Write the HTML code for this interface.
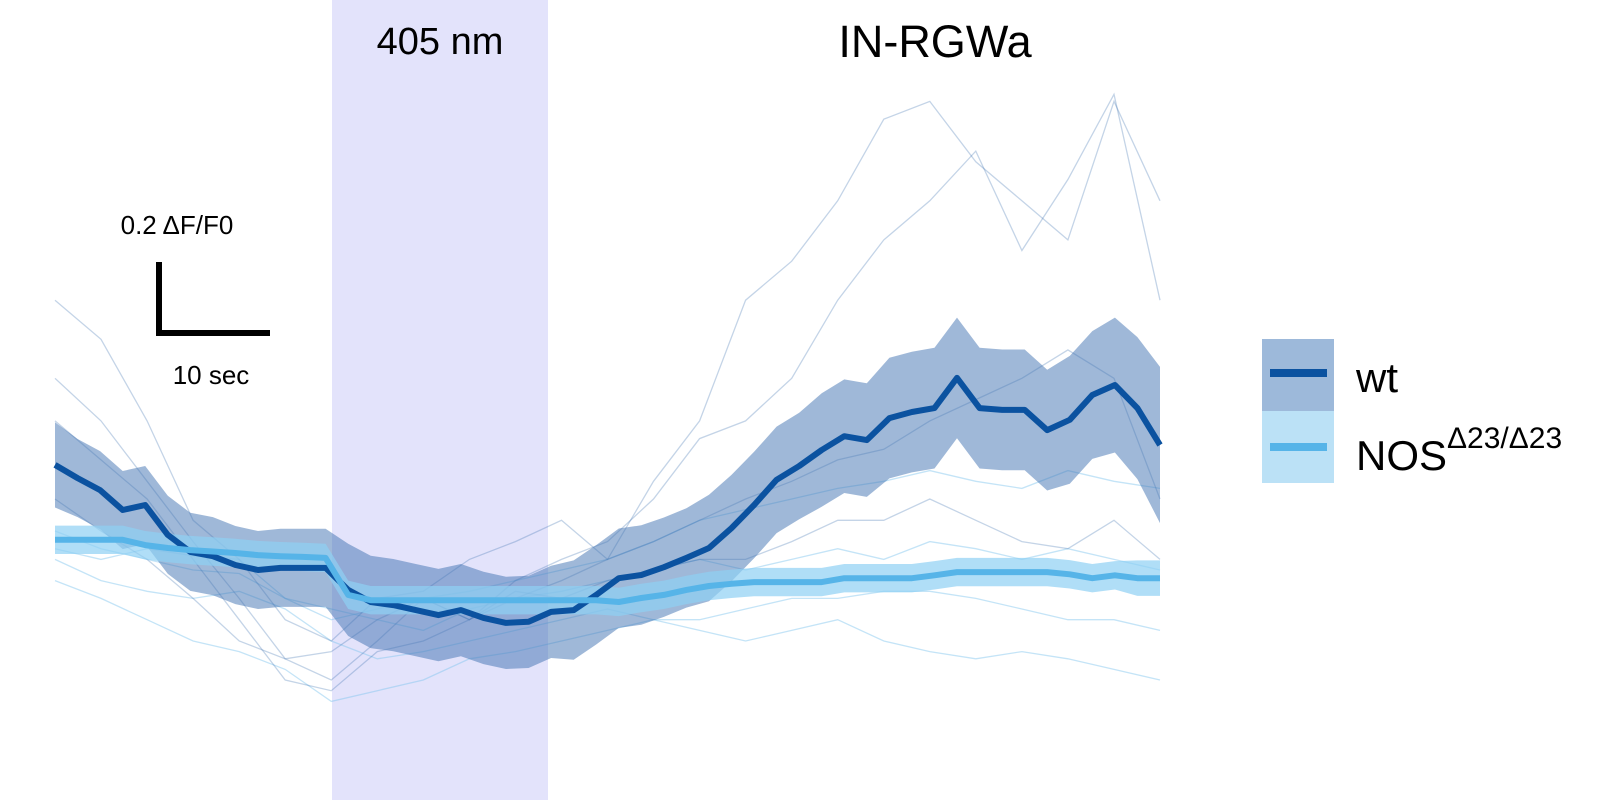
<!DOCTYPE html>
<html><head><meta charset="utf-8"><style>
body{margin:0;background:#fff;}
svg text{font-family:"Liberation Sans",Arial,sans-serif;}
</style></head><body>
<svg id="chart" width="1600" height="800" xmlns="http://www.w3.org/2000/svg">
<rect x="332" y="0" width="216" height="800" fill="#e3e3fb"/>
<g id="traces"></g>
<g id="bands"></g>
<g id="means"></g>
<text x="440" y="54" font-size="38" text-anchor="middle">405 nm</text>
<text x="935" y="57" font-size="45" text-anchor="middle">IN-RGWa</text>
<g>
<path d="M159 262 V333 H270" fill="none" stroke="#000" stroke-width="6"/>
<text x="177" y="234" font-size="26" text-anchor="middle">0.2 ΔF/F0</text>
<text x="211" y="384" font-size="26" text-anchor="middle">10 sec</text>
</g>
<g>
<g>
<rect x="1262" y="339" width="72" height="72" fill="#9db9da"/>
<rect x="1270" y="369" width="57" height="8" fill="#0b52a0"/>
<text x="1356" y="392" font-size="42">wt</text>
</g>
<g>
<rect x="1262" y="411" width="72" height="72" fill="#bbe1f6"/>
<rect x="1270" y="443" width="57" height="8" fill="#56b4e8"/>
<text x="1356" y="470" font-size="42">NOS<tspan font-size="30" dy="-22">Δ23/Δ23</tspan></text>
</g>
</g>
</svg>
<script>
const wtMean=[29.6,25.9,22.5,16.9,18.3,9.9,5.1,3.9,1.4,0,0.6,0.6,0.6,-5.6,-9.0,-9.9,-11.3,-12.7,-11.3,-13.5,-14.9,-14.6,-11.8,-11.3,-7.0,-2.3,-1.4,0.8,3.4,6.2,11.8,18.3,25.4,29.3,33.8,37.7,36.6,42.8,44.5,45.6,54.1,45.6,45.1,45.1,39.4,42.3,49.3,52.1,45.6,35.2];
const wtSem=[12,11,11,11,11,11,11,11,11,11,11,11,11,13,13,13,13,13,13,13,13,13,13,14,14,14,14,14,14,15,15,15,15,15,16,16,16,17,17,17,17,17,17,17,17,18,18,19,20,22];
const nosMean=[8.5,8.5,8.5,8.5,7,6.2,5.6,5.2,4.8,4.2,3.9,3.7,3.4,-7,-8.5,-8.5,-8.5,-8.5,-8.5,-8.5,-8.5,-8.5,-8.5,-8.5,-8.5,-9,-7.9,-7,-5.6,-4.5,-3.9,-3.4,-3.4,-3.4,-3.4,-2.3,-2.3,-2.3,-2.3,-1.5,-0.6,-0.6,-0.6,-0.6,-0.6,-1.2,-2.3,-1.5,-2.3,-2.3];
const nosSem=[4,4,4,4,4,4,4,4,4,4,4,4,4,4,4,4,4,4,4,4,4,4,4,4,4,4,4,4,4,4,4,4,4,4,4,4,4,4,4,4,4,4,4,4,4,4,4,4,5,5];
const wtTraces=[
[76,65,42,14,3,-14,-20,-8,-6,3,8,14,3,25,42,76,87,104,127,132,115,104,93,132,104],
[54,42,25,8,-8,-25,-31,-20,-8,-14,-3,3,8,20,37,42,54,76,93,104,118,90,110,134,76],
[42,31,20,3,-14,-31,-34,-23,-20,-14,-8,-3,3,8,14,20,25,31,34,42,48,54,62,54,20],
[20,11,3,-8,-20,-25,-23,-14,-8,-14,-6,-8,-3,0,3,3,8,14,14,20,14,8,6,14,3]];
const nosTraces=[
[11,6,3,0,-1,-8,-14,-11,-8,-6,-3,0,3,8,14,17,20,23,25,28,25,23,28,25,23],
[3,-3,-6,-8,-6,-11,-20,-25,-23,-20,-17,-14,-11,-14,-17,-20,-17,-14,-20,-23,-25,-23,-25,-28,-31],
[6,3,6,4,3,-8,-11,-14,-17,-11,-8,-6,-3,0,3,0,3,6,3,8,6,3,6,3,0],
[-3,-8,-14,-20,-23,-28,-37,-34,-31,-25,-23,-20,-17,-14,-14,-11,-8,-8,-6,-6,-8,-11,-14,-14,-17]];
const duration=98.7;
const X0=55,X1=1160;
const xs=t=>X0+t*(X1-X0)/duration;
const ys=v=>570-v*3.55;
const NS='http://www.w3.org/2000/svg';
function tAt(i,n){return i*duration/(n-1);}
function line(vals){return vals.map((v,i)=>(i?'L':'M')+xs(tAt(i,vals.length)).toFixed(1)+' '+ys(v).toFixed(1)).join(' ');}
function band(m,s){const n=m.length;const up=m.map((v,i)=>xs(tAt(i,n)).toFixed(1)+' '+ys(v+s[i]).toFixed(1));const dn=m.map((v,i)=>xs(tAt(i,n)).toFixed(1)+' '+ys(v-s[i]).toFixed(1)).reverse();return 'M'+up.join(' L')+' L'+dn.join(' L')+'Z';}
function mk(parent,d,attrs,name){const p=document.createElementNS(NS,'path');p.setAttribute('d',d);for(const k in attrs)p.setAttribute(k,attrs[k]);


document.getElementById(parent).appendChild(p);}
nosTraces.forEach(tr=>mk('traces',line(tr),{fill:'none',stroke:'#7cc4ee','stroke-opacity':0.45,'stroke-width':1.3},'nos-trace'));
wtTraces.forEach(tr=>mk('traces',line(tr),{fill:'none',stroke:'#3a6fb0','stroke-opacity':0.3,'stroke-width':1.3},'wt-trace'));
mk('bands',band(wtMean,wtSem),{fill:'#3f72b2','fill-opacity':0.5},'wt-sem-band');
mk('bands',band(nosMean,nosSem),{fill:'#8fd0f3','fill-opacity':0.7},'nos-sem-band');
mk('means',line(wtMean),{fill:'none',stroke:'#0b52a0','stroke-width':6,'stroke-linejoin':'round'},'wt-mean-line');
mk('means',line(nosMean),{fill:'none',stroke:'#56b4e8','stroke-width':6,'stroke-linejoin':'round'},'nos-mean-line');
</script>
</body></html>
